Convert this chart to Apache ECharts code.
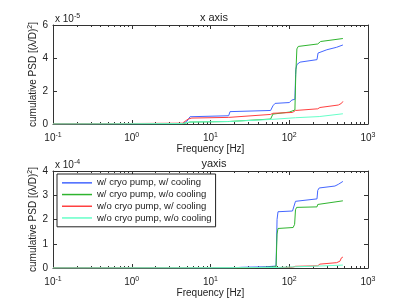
<!DOCTYPE html>
<html><head><meta charset="utf-8">
<script src="https://cdn.jsdelivr.net/npm/echarts@6/dist/echarts.min.js"></script>
<style>html,body{margin:0;padding:0;background:#fff}#c{width:407px;height:306px}</style>
</head><body><div id="c"></div>
<script>
const seriesNames = ['w/ cryo pump, w/ cooling', 'w/ cryo pump, w/o cooling', 'w/o cryo pump, w/ cooling', 'w/o cryo pump, w/o cooling'];
const colors = ['#4466ff', '#2fb42f', '#ff4040', '#66ffc8'];
const xTicks = [0.1, 1, 10, 100, 1000];
const topYTicks = [0, 2, 4, 6];
const botYTicks = [0, 1, 2, 3, 4];

// top panel "x axis" (units of 1e-5)
const xBlueF  = [0.1, 4.4, 5.0, 5.5, 17.0, 17.7, 58, 62, 66, 100, 108, 118, 121, 125, 137, 225, 232, 245, 300, 400, 480];
const xBlueV  = [0, 0.02, 0.15, 0.44, 0.5, 0.75, 0.82, 1.1, 1.25, 1.3, 1.45, 1.5, 3.3, 3.6, 3.75, 3.9, 4.3, 4.38, 4.5, 4.65, 4.79];
const xGreenF = [0.1, 4.4, 5.5, 17, 17.7, 58, 62, 100, 118, 121, 125, 130, 230, 240, 250, 480];
const xGreenV = [0, 0.01, 0.12, 0.15, 0.22, 0.3, 0.6, 0.72, 0.85, 3.0, 4.55, 4.7, 4.85, 4.95, 5.0, 5.18];
const xRedF   = [0.1, 4.4, 5.2, 5.8, 17, 17.7, 58, 62, 110, 120, 230, 245, 420, 460, 480];
const xRedV   = [0, 0.05, 0.3, 0.36, 0.4, 0.52, 0.58, 0.65, 0.7, 0.82, 0.92, 1.0, 1.15, 1.25, 1.37];
const xCyanF  = [0.1, 4.4, 5.5, 17, 18, 60, 120, 240, 250, 480];
const xCyanV  = [0, 0.03, 0.12, 0.15, 0.2, 0.28, 0.38, 0.45, 0.52, 0.62];

// bottom panel "yaxis" (units of 1e-4)
const yBlueF  = [0.1, 18, 25, 50, 68, 70, 72, 110, 116, 120, 124, 225, 230, 240, 380, 420, 480];
const yBlueV  = [0, 0, 0.03, 0.05, 0.08, 2.0, 2.32, 2.35, 2.4, 2.75, 2.82, 2.85, 3.2, 3.3, 3.38, 3.45, 3.57];
const yGreenF = [0.1, 25, 50, 68, 70, 72, 112, 117, 120, 124, 225, 230, 240, 480];
const yGreenV = [0, 0, 0.03, 0.05, 1.4, 1.63, 1.67, 1.8, 2.4, 2.5, 2.52, 2.62, 2.7, 2.77];
const yRedF   = [0.1, 70, 110, 120, 230, 245, 400, 440, 460, 480];
const yRedV   = [0, 0.02, 0.03, 0.07, 0.09, 0.16, 0.22, 0.28, 0.42, 0.45];
const yCyanF  = [0.1, 70, 120, 240, 480];
const yCyanV  = [0, 0.02, 0.05, 0.08, 0.12];

const zip = (f, v) => f.map((x, i) => [x, v[i]]);
const topData = [zip(xBlueF, xBlueV), zip(xGreenF, xGreenV), zip(xRedF, xRedV), zip(xCyanF, xCyanV)];
const botData = [zip(yBlueF, yBlueV), zip(yGreenF, yGreenV), zip(yRedF, yRedV), zip(yCyanF, yCyanV)];

const minorVals = [];
for (let k = -1; k <= 2; k++) for (let m = 2; m <= 9; m++) minorVals.push(m * Math.pow(10, k));

const FONT = 'Liberation Sans, Arial, sans-serif';
const AX = '#333';
const sup = {b: {fontSize: 10, fontFamily: FONT, color: '#222'}, s: {fontSize: 7, fontFamily: FONT, color: '#222', verticalAlign: 'top', padding: [0, 0, 6, 0]}};
const logFmt = v => '{b|10}{s|' + Math.round(Math.log10(v)) + '}';

function xAxes(gi) {
  return [
    {type: 'log', gridIndex: gi, min: 0.1, max: 1000, logBase: 10,
     axisLine: {onZero: false, lineStyle: {color: AX}}, axisTick: {inside: true, length: 4, lineStyle: {color: AX}},
     splitLine: {show: false},
     axisLabel: {formatter: logFmt, rich: sup, margin: 8},
     name: 'Frequency [Hz]', nameLocation: 'middle', nameGap: 18,
     nameTextStyle: {fontSize: 10, fontFamily: FONT, color: '#222'}},
    {type: 'log', gridIndex: gi, position: 'top', min: 0.1, max: 1000, logBase: 10,
     axisLine: {onZero: false, lineStyle: {color: AX}}, axisTick: {inside: true, length: 4, lineStyle: {color: AX}},
     splitLine: {show: false}, axisLabel: {show: false}}
  ];
}
function yAxes(gi, max, interval) {
  return [
    {type: 'value', gridIndex: gi, min: 0, max: max, interval: interval,
     axisLine: {show: true, onZero: false, lineStyle: {color: AX}}, axisTick: {show: true, inside: true, length: 4, lineStyle: {color: AX}},
     splitLine: {show: false},
     axisLabel: {fontSize: 10, fontFamily: FONT, color: '#222', margin: 5},
     name: '{a|cumulative PSD [(λ/D)}{s|2}{a|]}', nameLocation: 'middle', nameRotate: 90, nameGap: 13,
     nameMoveOverlap: false,
     nameTextStyle: {rich: {a: {fontSize: 10, fontFamily: FONT, color: '#222'}, s: {fontSize: 7, fontFamily: FONT, color: '#222', verticalAlign: 'top', padding: [0, 0, 6, 0]}}}},
    {type: 'value', gridIndex: gi, position: 'right', min: 0, max: max, interval: interval,
     axisLine: {show: true, onZero: false, lineStyle: {color: AX}}, axisTick: {show: true, inside: true, length: 4, lineStyle: {color: AX}},
     splitLine: {show: false}, axisLabel: {show: false}}
  ];
}

function minorSeries(gi) {
  return {
    type: 'custom', xAxisIndex: gi * 2, yAxisIndex: gi * 2, silent: true, z: 1,
    data: minorVals.map(v => [v]),
    renderItem: (params, api) => {
      const cs = params.coordSys;
      const x = Math.round(api.coord([api.value(0), 0])[0]) + 0.5;
      const st = {stroke: AX, lineWidth: 1};
      return {type: 'group', children: [
        {type: 'line', shape: {x1: x, y1: cs.y + cs.height, x2: x, y2: cs.y + cs.height - 2}, style: st},
        {type: 'line', shape: {x1: x, y1: cs.y, x2: x, y2: cs.y + 2}, style: st}
      ]};
    }
  };
}

const series = [];
[topData, botData].forEach((set, gi) => {
  set.forEach((d, i) => series.push({
    type: 'line', name: seriesNames[i], xAxisIndex: gi * 2, yAxisIndex: gi * 2, data: d,
    showSymbol: false, symbol: 'none', lineStyle: {width: 1, color: colors[i]}, itemStyle: {color: colors[i]},
    animation: false, z: 3
  }));
  series.push(minorSeries(gi));
});

const chart = echarts.init(document.getElementById('c'), null, {renderer: 'canvas'});
chart.setOption({
  animation: false,
  backgroundColor: '#fff',
  grid: [
    {left: 53, width: 315, top: 25, height: 99},
    {left: 53, width: 315, top: 171, height: 97}
  ],
  title: [
    {text: 'x axis', left: 209, top: 7, textAlign: 'center', textStyle: {fontSize: 11, fontWeight: 'normal', fontFamily: FONT, color: '#222'}},
    {text: 'yaxis', left: 209, top: 153, textAlign: 'center', textStyle: {fontSize: 11, fontWeight: 'normal', fontFamily: FONT, color: '#222'}}
  ],
  xAxis: [...xAxes(0), ...xAxes(1)],
  yAxis: [...yAxes(0, 6, 2), ...yAxes(1, 4, 1)],
  legend: {
    orient: 'vertical', left: 57, top: 174, data: seriesNames,
    backgroundColor: '#fff', borderColor: '#222', borderWidth: 1, borderRadius: 0,
    padding: [3, 4, 3, 5], itemGap: 0, itemWidth: 30, itemHeight: 1.5, icon: 'rect',
    textStyle: {fontSize: 9.5, fontFamily: FONT, color: '#222', lineHeight: 11.7, height: 11.7},
    selectedMode: false
  },
  graphic: [
    {type: 'text', left: 55, top: 13, style: {text: '{a|x 10}{s|-5}', rich: {a: {fontSize: 10, fontFamily: FONT, fill: '#222'}, s: {fontSize: 7, fontFamily: FONT, fill: '#222', verticalAlign: 'top', padding: [0, 0, 6, 0]}}}},
    {type: 'text', left: 55, top: 159, style: {text: '{a|x 10}{s|-4}', rich: {a: {fontSize: 10, fontFamily: FONT, fill: '#222'}, s: {fontSize: 7, fontFamily: FONT, fill: '#222', verticalAlign: 'top', padding: [0, 0, 6, 0]}}}}
  ],
  series: series
});
</script></body></html>
